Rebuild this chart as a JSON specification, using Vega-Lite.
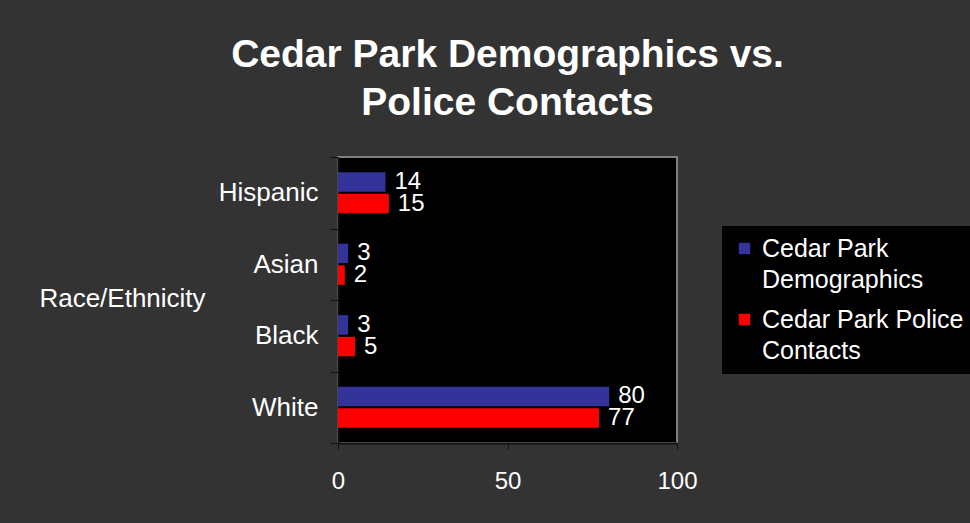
{
  "$schema": "https://vega.github.io/schema/vega-lite/v6.json",
  "width": 339,
  "height": 286,
  "autosize": {"type": "none"},
  "padding": {"left": 338, "top": 157, "right": 293, "bottom": 80},
  "background": "#333333",
  "title": {
    "text": ["Cedar Park Demographics vs.", "Police Contacts"],
    "font": "Liberation Sans",
    "fontSize": 39,
    "fontWeight": "bold",
    "color": "white",
    "anchor": "middle",
    "frame": "group",
    "lineHeight": 48,
    "offset": 21
  },
  "config": {
    "view": {"fill": "black", "stroke": "#808080", "strokeWidth": 2},
    "font": "Liberation Sans"
  },
  "data": {
    "values": [
      {"race": "Hispanic", "series": "Cedar Park Demographics", "value": 14},
      {"race": "Hispanic", "series": "Cedar Park Police Contacts", "value": 15},
      {"race": "Asian", "series": "Cedar Park Demographics", "value": 3},
      {"race": "Asian", "series": "Cedar Park Police Contacts", "value": 2},
      {"race": "Black", "series": "Cedar Park Demographics", "value": 3},
      {"race": "Black", "series": "Cedar Park Police Contacts", "value": 5},
      {"race": "White", "series": "Cedar Park Demographics", "value": 80},
      {"race": "White", "series": "Cedar Park Police Contacts", "value": 77}
    ]
  },
  "encoding": {
    "y": {
      "field": "race",
      "type": "nominal",
      "sort": ["Hispanic", "Asian", "Black", "White"],
      "scale": {"paddingInner": 0, "paddingOuter": 0},
      "axis": {
        "title": "Race/Ethnicity",
        "titleAngle": 0,
        "titleX": -216,
        "titleY": 141,
        "titleAlign": "center",
        "titleBaseline": "middle",
        "titleFontSize": 26,
        "titleFontWeight": "normal",
        "titleColor": "white",
        "labelFontSize": 26,
        "labelColor": "white",
        "labelPadding": 12,
        "tickBand": "extent",
        "tickSize": 8,
        "tickColor": "#111111",
        "domainColor": "#111111",
        "domainWidth": 2
      }
    },
    "yOffset": {
      "field": "series",
      "type": "nominal",
      "scale": {"paddingInner": 0.1, "paddingOuter": 0.7}
    },
    "x": {
      "field": "value",
      "type": "quantitative",
      "scale": {"domain": [0, 100]},
      "axis": {
        "title": null,
        "values": [0, 50, 100],
        "grid": false,
        "labelFontSize": 24,
        "labelColor": "white",
        "labelPadding": 20,
        "tickSize": 6,
        "tickColor": "#111111",
        "domainColor": "#111111",
        "domainWidth": 2,
        "labelFlush": false
      }
    }
  },
  "layer": [
    {
      "mark": {"type": "bar"},
      "encoding": {
        "color": {
          "field": "series",
          "type": "nominal",
          "scale": {"range": ["#333399", "#FF0000"]},
          "legend": {
            "title": null,
            "orient": "none",
            "legendX": 384,
            "legendY": 69,
            "fillColor": "black",
            "padding": 10,
            "labelFontSize": 25,
            "labelColor": "white",
            "labelLimit": 400,
            "labelOffset": 5,
            "symbolType": "square",
            "symbolSize": 130,
            "symbolStrokeWidth": 0,
            "rowPadding": 14,
            "labelExpr": "datum.label == 'Cedar Park Demographics' ? ['Cedar Park', 'Demographics'] : ['Cedar Park Police', 'Contacts']",
            "encode": {"labels": {"update": {"lineHeight": {"value": 31}}}}
          }
        }
      }
    },
    {
      "mark": {"type": "text", "align": "left", "baseline": "middle", "dx": 9, "fontSize": 24, "color": "white"},
      "encoding": {
        "text": {"field": "value", "type": "quantitative"}
      }
    }
  ]
}
